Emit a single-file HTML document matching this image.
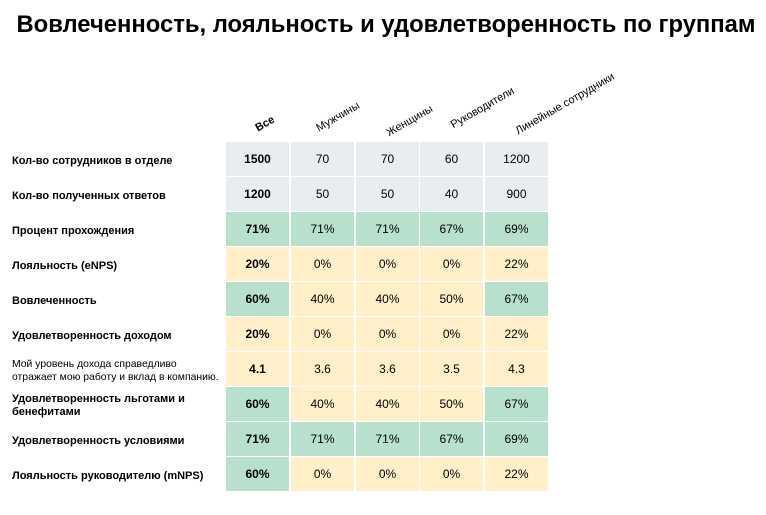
<!DOCTYPE html>
<html><head><meta charset="utf-8"><style>
body{margin:0;width:766px;height:515px;background:#fff;font-family:"Liberation Sans",Arial,sans-serif;position:relative;overflow:hidden;color:#000}
.t{position:absolute;left:0;width:772px;top:11px;text-align:center;font-weight:bold;font-size:23.8px}
.c{position:absolute;width:63px;height:34px;display:flex;align-items:center;justify-content:center;font-size:12px}
.l{position:absolute;left:12px;height:34px;display:flex;align-items:center;font-size:11px;font-weight:bold;line-height:13px;padding-top:2px}
.h{position:absolute;font-size:11px;transform:rotate(-30deg);transform-origin:center;white-space:nowrap}
</style></head><body>
<div class="t">Вовлеченность, лояльность и удовлетворенность по группам</div>
<div class="h" style="left:255px;top:118px;font-weight:bold">Все</div>
<div class="h" style="left:314px;top:111px">Мужчины</div>
<div class="h" style="left:384px;top:115px">Женщины</div>
<div class="h" style="left:447px;top:102px">Руководители</div>
<div class="h" style="left:509px;top:98px">Линейные сотрудники</div>
<div id="g"></div>
<script>
const G='#e8edf1',Gr='#b7e1cd',Y='#fff0c9';
const rows=[
["Кол-во сотрудников в отделе",["1500","70","70","60","1200"],[G,G,G,G,G]],
["Кол-во полученных ответов",["1200","50","50","40","900"],[G,G,G,G,G]],
["Процент прохождения",["71%","71%","71%","67%","69%"],[Gr,Gr,Gr,Gr,Gr]],
["Лояльность (eNPS)",["20%","0%","0%","0%","22%"],[Y,Y,Y,Y,Y]],
["Вовлеченность",["60%","40%","40%","50%","67%"],[Gr,Y,Y,Y,Gr]],
["Удовлетворенность доходом",["20%","0%","0%","0%","22%"],[Y,Y,Y,Y,Y]],
["<span style='font-weight:normal;font-size:10.4px'>Мой уровень дохода справедливо<br>отражает мою работу и вклад в компанию.</span>",["4.1","3.6","3.6","3.5","4.3"],[Y,Y,Y,Y,Y]],
["Удовлетворенность льготами и<br>бенефитами",["60%","40%","40%","50%","67%"],[Gr,Y,Y,Y,Gr]],
["Удовлетворенность условиями",["71%","71%","71%","67%","69%"],[Gr,Gr,Gr,Gr,Gr]],
["Лояльность руководителю (mNPS)",["60%","0%","0%","0%","22%"],[Gr,Y,Y,Y,Y]]];
const xs=[226,291,356,420,485];let h='';
rows.forEach((r,i)=>{const y=142+i*35;h+=`<div class="l" style="top:${y}px">${r[0]}</div>`;
r[1].forEach((v,j)=>{h+=`<div class="c" style="left:${xs[j]}px;top:${y}px;background:${r[2][j]};${j==0?'font-weight:bold':''}">${v}</div>`});});
document.getElementById('g').innerHTML=h;
</script>
</body></html>
